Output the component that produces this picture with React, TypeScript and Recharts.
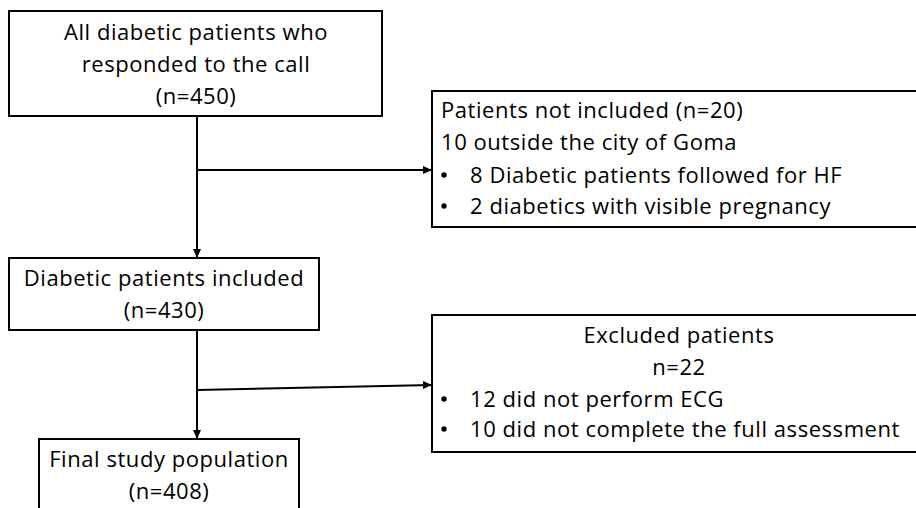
import { ComposedChart, XAxis, YAxis, ReferenceArea, Line, Scatter } from 'recharts';

const WIDTH = 916;
const HEIGHT = 508;
const FONT = '"Open Sans", "Noto Sans", sans-serif';
const FONT_SIZE = 22;

// flowchart boxes in page units (right edges run off the canvas in the source)
const boxes = [
  { id: 'all', x1: 9, x2: 382, y1: 11, y2: 116 },
  { id: 'notIncluded', x1: 432, x2: 940, y1: 91, y2: 227 },
  { id: 'included', x1: 9, x2: 319, y1: 258, y2: 330 },
  { id: 'excluded', x1: 432, x2: 940, y1: 315, y2: 452 },
  { id: 'final', x1: 39, x2: 299, y1: 439, y2: 540 },
];

const allLines = ['All diabetic patients who', 'responded to the call', '(n=450)'];
const notIncludedLines = ['Patients not included (n=20)', '10 outside the city of Goma'];
const notIncludedBullets = ['8 Diabetic patients followed for HF', '2 diabetics with visible pregnancy'];
const includedLines = ['Diabetic patients included', '(n=430)'];
const excludedLines = ['Excluded patients', 'n=22'];
const excludedBullets = ['12 did not perform ECG', '10 did not complete the full assessment'];
const finalLines = ['Final study population', '(n=408)'];

// connector paths
const trunkTop = [{ x: 197, y: 116 }, { x: 197, y: 258 }];
const branchTop = [{ x: 197, y: 170 }, { x: 432, y: 170 }];
const trunkBottom = [{ x: 197, y: 330 }, { x: 197, y: 439 }];
const branchBottom = [{ x: 197, y: 390 }, { x: 432, y: 385 }];

const arrowHeads = [
  { x: 197, y: 258, dir: 'down' },
  { x: 432, y: 170, dir: 'right' },
  { x: 197, y: 439, dir: 'down' },
  { x: 432, y: 385, dir: 'right' },
];

type TextRow = { x: number; y: number; text: string; anchor: 'start' | 'middle'; bullet?: boolean };

const centered = (lines: string[], cx: number, y0: number, step: number): TextRow[] =>
  lines.map((text, i) => ({ x: cx, y: y0 + i * step, text, anchor: 'middle' }));

const leftAligned = (lines: string[], x: number, y0: number, step: number, bullet = false): TextRow[] =>
  lines.map((text, i) => ({ x, y: y0 + i * step, text, anchor: 'start', bullet }));

const textRows: TextRow[] = [
  ...centered(allLines, 196, 40, 32),
  ...leftAligned(notIncludedLines, 441, 118, 32),
  ...leftAligned(notIncludedBullets, 470, 183, 31, true),
  ...centered(includedLines, 164, 286, 32),
  ...centered(excludedLines, 679, 343, 32),
  ...leftAligned(excludedBullets, 470, 407, 30, true),
  ...centered(finalLines, 169, 467, 32),
];

const renderText = (props: any) => {
  const { cx, cy, payload } = props;
  return (
    <g>
      {payload.bullet && <circle cx={cx - 26} cy={cy - 8} r={2.7} fill="#000" />}
      <text
        x={cx}
        y={cy}
        textAnchor={payload.anchor}
        fontFamily={FONT}
        fontSize={FONT_SIZE}
        letterSpacing={0.55}
        fill="#000"
      >
        {payload.text}
      </text>
    </g>
  );
};

const renderArrow = (props: any) => {
  const { cx, cy, payload } = props;
  const pts =
    payload.dir === 'down'
      ? `${cx},${cy} ${cx - 4},${cy - 9} ${cx + 4},${cy - 9}`
      : `${cx},${cy} ${cx - 9},${cy - 4} ${cx - 9},${cy + 4}`;
  return <polygon points={pts} fill="#000" />;
};

export default function App() {
  return (
    <div style={{ position: 'absolute', left: 0, top: 0, background: '#fff' }}>
      <ComposedChart width={WIDTH} height={HEIGHT} margin={{ top: 0, right: 0, bottom: 0, left: 0 }}>
        <XAxis type="number" dataKey="x" domain={[0, WIDTH]} allowDataOverflow hide />
        <YAxis type="number" dataKey="y" domain={[0, HEIGHT]} reversed allowDataOverflow hide />
        {boxes.map((b) => (
          <ReferenceArea
            key={b.id}
            x1={b.x1}
            x2={b.x2}
            y1={b.y1}
            y2={b.y2}
            fill="#fff"
            fillOpacity={1}
            stroke="#000"
            strokeWidth={2}
            ifOverflow="visible"
          />
        ))}
        {[trunkTop, branchTop, trunkBottom, branchBottom].map((seg, i) => (
          <Line
            key={i}
            data={seg}
            dataKey="y"
            type="linear"
            stroke="#000"
            strokeWidth={2}
            dot={false}
            activeDot={false}
            isAnimationActive={false}
          />
        ))}
        <Scatter data={arrowHeads} dataKey="y" shape={renderArrow} isAnimationActive={false} />
        <Scatter data={textRows} dataKey="y" shape={renderText} isAnimationActive={false} />
      </ComposedChart>
    </div>
  );
}
